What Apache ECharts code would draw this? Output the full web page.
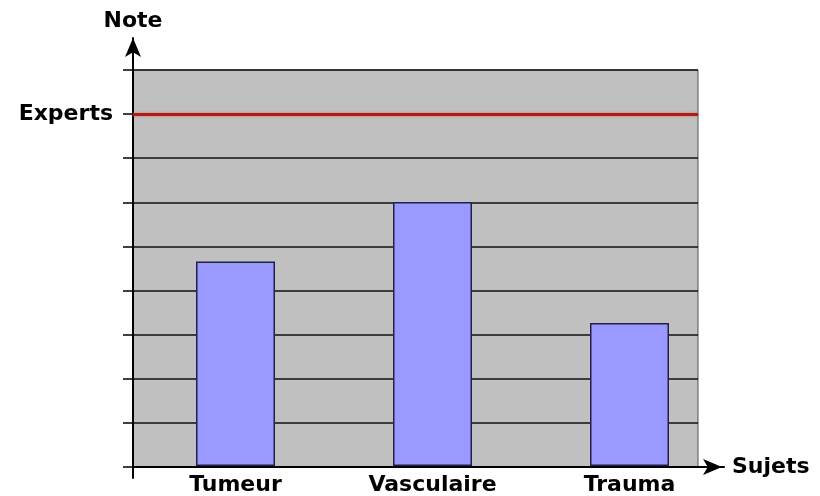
<!DOCTYPE html>
<html>
<head>
<meta charset="utf-8">
<script src="https://cdn.jsdelivr.net/npm/echarts@6/dist/echarts.min.js"></script>
<style>
	html, body { margin: 0; padding: 0; background: #fff; }
	#chart { width: 820px; height: 496px; }
</style>
</head>
<body>
<div id="chart"></div>
<script>
var sujets = ['Tumeur', 'Vasculaire', 'Trauma'];
var notes = [4.65, 6.0, 3.25];
var expertsNote = 8;
var noteMax = 9;

var myChart = echarts.init(document.getElementById('chart'));
var font = 'DejaVu Sans';

var option = {
	backgroundColor: '#fff',
	animation: false,
	grid: [
		// grey plot area
		{ left: 133, right: 122, top: 70, bottom: 29, show: true, backgroundColor: '#c0c0c0', borderColor: '#555', borderWidth: 1 },
		// bars
		{ left: 137, right: 92, top: 70, bottom: 29 },
		// long y axis with arrow
		{ left: 133, right: 96, top: 38, bottom: 18 },
		// x axis line with arrow
		{ left: 133, right: 96, top: 70, bottom: 29 }
	],
	xAxis: [
		{ gridIndex: 0, type: 'value', min: 0, max: 1, show: false },
		{
			gridIndex: 1,
			type: 'category',
			data: sujets,
			axisLine: { show: false },
			axisTick: { show: false },
			axisLabel: {
				color: '#000',
				fontFamily: font,
				fontWeight: 'bold',
				fontSize: 22,
				margin: 8
			}
		},
		{ gridIndex: 2, type: 'value', show: false },
		{
			gridIndex: 3,
			type: 'value',
			min: 0,
			max: 1,
			axisLine: {
				show: true,
				lineStyle: { color: '#000', width: 2 },
				symbol: ['none', 'arrow'],
				symbolSize: [12, 19],
				symbolOffset: [0, -2]
			},
			axisTick: { show: false },
			axisLabel: { show: false },
			splitLine: { show: false },
			name: 'Sujets',
			nameLocation: 'end',
			nameGap: 8,
			nameTextStyle: { color: '#000', fontFamily: font, fontWeight: 'bold', fontSize: 22, verticalAlign: 'middle', padding: [0, 0, 6, 0] }
		}
	],
	yAxis: [
		{
			gridIndex: 0,
			type: 'value',
			min: 0,
			max: noteMax,
			interval: 1,
			axisLine: { show: true, lineStyle: { color: '#000', width: 2 } },
			axisTick: { show: true, length: 10, lineStyle: { color: '#000', width: 1.5 } },
			axisLabel: {
				margin: 20,
				color: '#000',
				fontFamily: font,
				fontWeight: 'bold',
				fontSize: 22,
				formatter: function(v) {
					return v === expertsNote ? 'Experts' : '';
				}
			},
			splitLine: { show: true, lineStyle: { color: '#111', width: 1.6 } }
		},
		{ gridIndex: 1, type: 'value', min: 0, max: noteMax, show: false },
		{
			gridIndex: 2,
			type: 'value',
			min: 0,
			max: 1,
			axisLine: {
				show: true,
				lineStyle: { color: '#000', width: 2 },
				symbol: ['none', 'arrow'],
				symbolSize: [12, 19],
				symbolOffset: [0, 0]
			},
			axisTick: { show: false },
			axisLabel: { show: false },
			splitLine: { show: false },
			name: 'Note',
			nameLocation: 'end',
			nameGap: 6,
			nameTextStyle: { color: '#000', fontFamily: font, fontWeight: 'bold', fontSize: 22, align: 'center' }
		},
		{ gridIndex: 3, type: 'value', min: 0, max: 1, show: false }
	],
	series: [
		{
			type: 'line',
			xAxisIndex: 0,
			yAxisIndex: 0,
			data: [],
			markLine: {
				silent: true,
				symbol: ['none', 'none'],
				label: { show: false },
				lineStyle: { color: '#a81f18', width: 3, type: 'solid', shadowColor: 'rgba(235,90,90,0.8)', shadowBlur: 3 },
				data: [{ yAxis: expertsNote }]
			}
		},
		{
			type: 'bar',
			xAxisIndex: 1,
			yAxisIndex: 1,
			barWidth: 79,
			itemStyle: { color: '#9999ff', borderColor: '#20204a', borderWidth: 1.5 },
			data: notes,
			z: 5
		}
	]
};

myChart.setOption(option);
</script>
</body>
</html>
